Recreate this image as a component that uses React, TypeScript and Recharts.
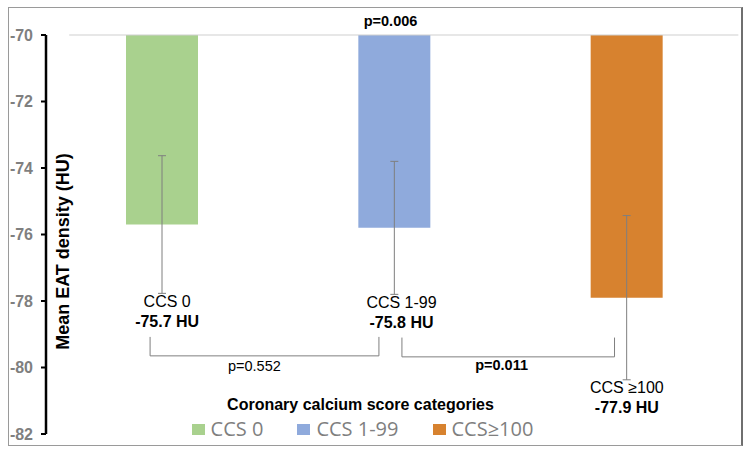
import React from 'react';
import {
  ComposedChart,
  Bar,
  Cell,
  XAxis,
  YAxis,
  ErrorBar,
  Line,
  LabelList,
  ReferenceLine,
  ReferenceDot,
  Legend,
} from 'recharts';

// ---- data ----
const categories = ['CCS 0', 'CCS 1-99', 'CCS≥100'];
const barNames = ['CCS 0', 'CCS 1-99', 'CCS ≥100'];
const meanValues = [-75.7, -75.8, -77.9];
const valueLabels = ['-75.7 HU', '-75.8 HU', '-77.9 HU'];
const errValues = [2.07, 2.0, 2.47];
const yTicks = [-70, -72, -74, -76, -78, -80, -82];

const comparisons = [
  { from: 0.448, to: 1.433, top: -79.08, bottom: -79.65, text: 'p=0.552', tx: 0.897, ty: -79.95, bold: false },
  { from: 1.532, to: 2.447, top: -79.1, bottom: -79.68, text: 'p=0.011', tx: 1.961, ty: -79.91, bold: true },
];
const overall = { text: 'p=0.006', tx: 1.483, ty: -69.58 };

// ---- styles ----
const colors = ['#a9d18e', '#8faadc', '#d7822f'];
const labelDx = [5, 7, 0];
const FONT = '"Liberation Sans", Arial, sans-serif';

const data = categories.map((c, i) => ({
  cat: c,
  pos: i + 0.5,
  mean: meanValues[i],
  err: errValues[i],
  labelY: meanValues[i] - errValues[i],
}));

const renderBarLabel = (props: any) => {
  const x = props.x ?? props.viewBox?.x;
  const y = props.y ?? props.viewBox?.y;
  const i = props.index;
  if (x == null || y == null || i == null) return null;
  const cx = x + labelDx[i];
  return (
    <g>
      <text x={cx} y={y + 8} textAnchor="middle" dominantBaseline="central" fontFamily={FONT} fontSize={16} fill="#000">
        {barNames[i]}
      </text>
      <text x={cx} y={y + 28} textAnchor="middle" dominantBaseline="central" fontFamily={FONT} fontSize={16} fontWeight="bold" fill="#000">
        {valueLabels[i]}
      </text>
    </g>
  );
};

const renderYLabel = (props: any) => {
  const vb = props.viewBox || {};
  const x = (vb.x ?? 0) + (vb.width ?? 46) + 17;
  const y = (vb.y ?? 35) + (vb.height ?? 400) / 2 + 17;
  return (
    <text
      x={x}
      y={y}
      transform={`rotate(-90 ${x} ${y})`}
      textAnchor="middle"
      dominantBaseline="central"
      fontFamily={FONT}
      fontSize={18}
      fontWeight="bold"
      fill="#000"
    >
      Mean EAT density (HU)
    </text>
  );
};

const renderLegend = () => (
  <div style={{ fontFamily: FONT, width: 751 }}>
    <div style={{ textAlign: 'center', fontWeight: 'bold', fontSize: 16, color: '#000', lineHeight: '20px', paddingRight: 30 }}>
      Coronary calcium score categories
    </div>
    <div style={{ display: 'flex', justifyContent: 'center', alignItems: 'center', marginTop: 2, paddingRight: 26 }}>
      {categories.map((c, i) => (
        <div key={c} style={{ display: 'flex', alignItems: 'center', marginRight: i < 2 ? 34 : 0 }}>
          <div style={{ width: 13, height: 11, background: colors[i], marginRight: 6 }} />
          <span style={{ fontFamily: '"Open Sans", sans-serif', fontSize: 20, color: '#7f7f7f', lineHeight: '24px' }}>{c}</span>
        </div>
      ))}
    </div>
  </div>
);

export default function App() {
  return (
    <div style={{ position: 'absolute', left: 0, top: 0, width: 751, height: 455, background: '#fff' }}>
      <ComposedChart width={751} height={455} data={data} margin={{ top: 35, right: 8, bottom: 21, left: 0 }}>
        <XAxis dataKey="cat" hide />
        <XAxis xAxisId="num" dataKey="pos" type="number" domain={[0, 3]} ticks={[0, 1, 2, 3]} hide allowDataOverflow />
        <YAxis
          width={46}
          domain={[-82, -70]}
          ticks={yTicks}
          interval={0}
          allowDataOverflow
          axisLine={{ stroke: '#000', strokeWidth: 2.5 }}
          tickLine={{ stroke: '#000', strokeWidth: 2 }}
          tickSize={5}
          tickMargin={8}
          tick={{ fill: '#7f7f7f', fontSize: 16, fontWeight: 'bold', fontFamily: FONT }}
          label={{ content: renderYLabel }}
        />
        <ReferenceLine
          xAxisId="num"
          segment={[{ x: 0.1, y: -70 }, { x: 2.98, y: -70 }]}
          stroke="#cfcfcf"
          strokeWidth={1}
          ifOverflow="visible"
        />
        <Bar dataKey="mean" barSize={72} isAnimationActive={false} legendType="none">
          {data.map((d, i) => (
            <Cell key={d.cat} fill={colors[i]} />
          ))}
          <ErrorBar dataKey="err" direction="y" width={4} stroke="#7f7f7f" strokeWidth={1} />
        </Bar>
        <Line dataKey="labelY" stroke="none" dot={false} activeDot={false} isAnimationActive={false} legendType="none">
          <LabelList dataKey="labelY" content={renderBarLabel} />
        </Line>
        {comparisons.map((c) => (
          <React.Fragment key={c.text}>
            <ReferenceLine xAxisId="num" ifOverflow="visible" stroke="#7f7f7f" strokeWidth={1}
              segment={[{ x: c.from, y: c.top }, { x: c.from, y: c.bottom }]} />
            <ReferenceLine xAxisId="num" ifOverflow="visible" stroke="#7f7f7f" strokeWidth={1}
              segment={[{ x: c.from, y: c.bottom }, { x: c.to, y: c.bottom }]} />
            <ReferenceLine xAxisId="num" ifOverflow="visible" stroke="#7f7f7f" strokeWidth={1}
              segment={[{ x: c.to, y: c.top }, { x: c.to, y: c.bottom }]} />
            <ReferenceDot
              xAxisId="num"
              x={c.tx}
              y={c.ty}
              ifOverflow="visible"
              shape={(p: any) => (
                <text x={p.cx} y={p.cy} textAnchor="middle" dominantBaseline="central" fontFamily={FONT} fontSize={14.5}
                  fontWeight={c.bold ? 'bold' : 'normal'} fill="#000">
                  {c.text}
                </text>
              )}
            />
          </React.Fragment>
        ))}
        <ReferenceDot
          xAxisId="num"
          x={overall.tx}
          y={overall.ty}
          ifOverflow="visible"
          shape={(p: any) => (
            <text x={p.cx} y={p.cy} textAnchor="middle" dominantBaseline="central" fontFamily={FONT} fontSize={14.5}
              fontWeight="bold" fill="#000">
              {overall.text}
            </text>
          )}
        />
        <Legend
          layout="horizontal"
          verticalAlign="middle"
          align="center"
          content={renderLegend}
          wrapperStyle={{ top: 395, left: 0, width: 751, height: 50 }}
        />
      </ComposedChart>
      <div
        style={{
          position: 'absolute',
          left: 8,
          top: 7,
          width: 735,
          height: 439,
          boxSizing: 'border-box',
          border: '1px solid #9a9a9a',
          borderRight: '2px solid #6f6f6f',
          pointerEvents: 'none',
        }}
      />
    </div>
  );
}
